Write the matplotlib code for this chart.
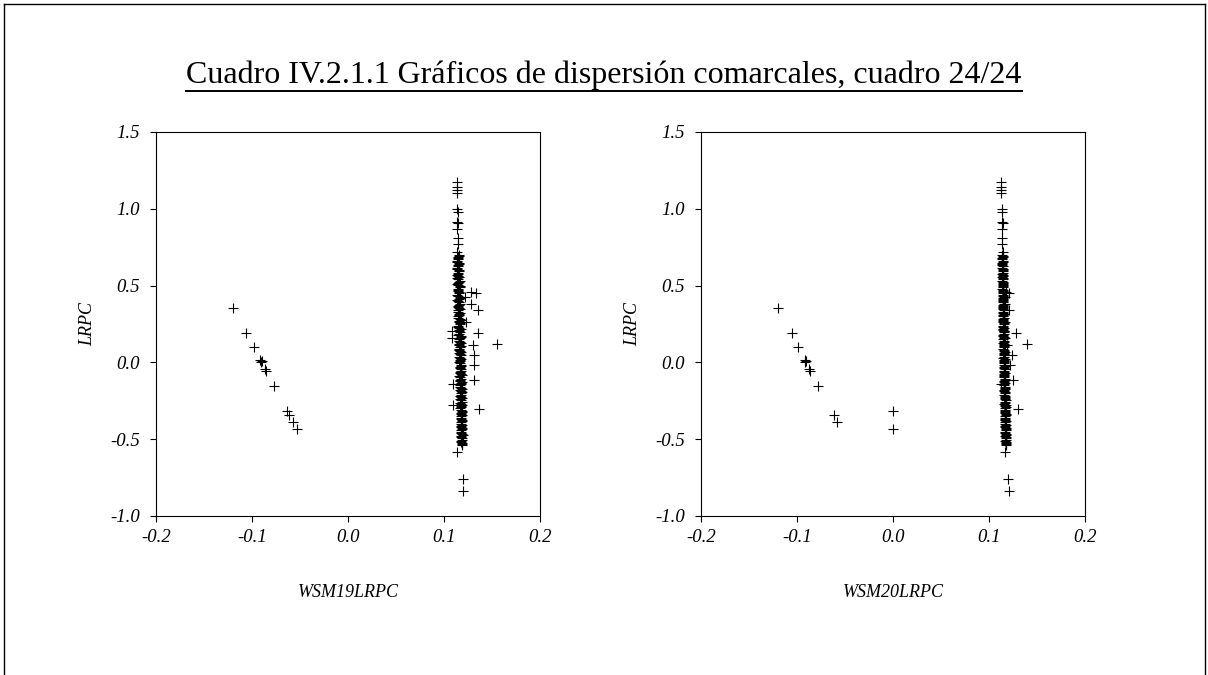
import matplotlib
matplotlib.use("Agg")
import matplotlib.pyplot as plt
from matplotlib.lines import Line2D

plt.rcParams['font.family'] = ['Liberation Serif', 'DejaVu Serif']

title = "Cuadro IV.2.1.1 Gráficos de dispersión comarcales, cuadro 24/24"
ylabel = "LRPC"
xlabels = ["WSM19LRPC", "WSM20LRPC"]
xticks = [-0.2, -0.1, 0.0, 0.1, 0.2]
xticklabels = ["-0.2", "-0.1", "0.0", "0.1", "0.2"]
yticks = [-1.0, -0.5, 0.0, 0.5, 1.0, 1.5]
yticklabels = ["-1.0", "-0.5", "0.0", "0.5", "1.0", "1.5"]

# Outlying points: LRPC, WSM19LRPC, WSM20LRPC
lrpc_out = [0.352, 0.189, 0.098, 0.016, 0.011, 0.000, -0.045, -0.054, -0.152,
            -0.316, -0.345, -0.386, -0.436,
            0.458, 0.450, 0.424, 0.378, 0.339, 0.261, 0.204, 0.191, 0.157, 0.118,
            0.111, 0.048, -0.019, -0.117, -0.141, -0.280, -0.303, -0.583, -0.757, -0.837,
            1.172, 1.144, 1.122, 1.101, 0.999, 0.977, 0.912, 0.908, 0.868, 0.810]
wsm19_out = [-0.1195, -0.1060, -0.0982, -0.0913, -0.0900, -0.0906, -0.0865, -0.0850, -0.0770,
             -0.0639, -0.0610, -0.0576, -0.0535,
             0.1285, 0.1333, 0.1220, 0.1278, 0.1358, 0.1233, 0.1080, 0.1350, 0.1080, 0.1556,
             0.1300, 0.1316, 0.1316, 0.1316, 0.1090, 0.1097, 0.1365, 0.1135, 0.1200, 0.1200,
             0.1135, 0.1135, 0.1135, 0.1135, 0.1135, 0.1150, 0.1135, 0.1148, 0.1140, 0.1145]
wsm20_out = [-0.1200, -0.1056, -0.0985, -0.0920, -0.0908, -0.0913, -0.0872, -0.0860, -0.0778,
             0.0000, -0.0618, -0.0580, 0.0000,
             0.1175, 0.1210, 0.1165, 0.1170, 0.1210, 0.1170, 0.1160, 0.1281, 0.1165, 0.1393,
             0.1185, 0.1240, 0.1219, 0.1247, 0.1130, 0.1175, 0.1306, 0.1167, 0.1194, 0.1211,
             0.1128, 0.1128, 0.1128, 0.1128, 0.1135, 0.1140, 0.1140, 0.1145, 0.1135, 0.1138]

# Dense column of comarcas (first group)
lrpc_col = [0.771, 0.720, 0.700, 0.685, 0.670, 0.655, 0.640, 0.625, 0.615, 0.600,
            0.585, 0.570, 0.555, 0.540, 0.525, 0.510, 0.495, 0.480, 0.465, 0.450,
            0.435, 0.420, 0.405, 0.390, 0.375, 0.360, 0.345, 0.330, 0.315, 0.300,
            0.285, 0.270, 0.255, 0.240, 0.225, 0.210, 0.195, 0.180, 0.165, 0.150,
            0.135, 0.120, 0.105, 0.090, 0.075, 0.060, 0.045, 0.030, 0.015, 0.000,
            -0.015, -0.030, -0.045, -0.060, -0.075, -0.090, -0.105, -0.120, -0.135, -0.150,
            -0.165, -0.180, -0.195, -0.210, -0.225, -0.240, -0.255, -0.270, -0.285, -0.300,
            -0.315, -0.330, -0.345, -0.360, -0.375, -0.390, -0.405, -0.420, -0.435, -0.450,
            -0.465, -0.480, -0.495, -0.510, -0.525, -0.540]
wsm19_col = [0.1145, 0.1140, 0.1152, 0.1143, 0.1150, 0.1138, 0.1155, 0.1146, 0.1140, 0.1158,
             0.1148, 0.1140, 0.1160, 0.1145, 0.1152, 0.1138, 0.1162, 0.1150, 0.1143, 0.1158,
             0.1147, 0.1165, 0.1140, 0.1155, 0.1160, 0.1145, 0.1168, 0.1150, 0.1158, 0.1143,
             0.1163, 0.1152, 0.1170, 0.1147, 0.1160, 0.1155, 0.1168, 0.1150, 0.1172, 0.1158,
             0.1165, 0.1153, 0.1175, 0.1160, 0.1168, 0.1155, 0.1178, 0.1162, 0.1170, 0.1158,
             0.1175, 0.1163, 0.1180, 0.1167, 0.1172, 0.1160, 0.1182, 0.1170, 0.1176, 0.1165,
             0.1180, 0.1170, 0.1185, 0.1172, 0.1178, 0.1168, 0.1187, 0.1175, 0.1182, 0.1170,
             0.1185, 0.1176, 0.1190, 0.1178, 0.1183, 0.1173, 0.1188, 0.1180, 0.1186, 0.1176,
             0.1190, 0.1182, 0.1188, 0.1180, 0.1192, 0.1185]
wsm20_col = [0.1138, 0.1142, 0.1136, 0.1144, 0.1140, 0.1146, 0.1139, 0.1143, 0.1137, 0.1145,
             0.1141, 0.1147, 0.1140, 0.1144, 0.1149, 0.1142, 0.1146, 0.1140, 0.1148, 0.1143,
             0.1150, 0.1145, 0.1148, 0.1142, 0.1151, 0.1146, 0.1149, 0.1144, 0.1153, 0.1147,
             0.1151, 0.1145, 0.1155, 0.1149, 0.1152, 0.1147, 0.1156, 0.1150, 0.1154, 0.1148,
             0.1157, 0.1152, 0.1155, 0.1150, 0.1159, 0.1153, 0.1157, 0.1151, 0.1160, 0.1155,
             0.1158, 0.1153, 0.1162, 0.1156, 0.1160, 0.1155, 0.1164, 0.1158, 0.1162, 0.1157,
             0.1166, 0.1160, 0.1164, 0.1158, 0.1168, 0.1162, 0.1166, 0.1160, 0.1170, 0.1164,
             0.1168, 0.1162, 0.1172, 0.1166, 0.1170, 0.1164, 0.1174, 0.1168, 0.1172, 0.1166,
             0.1176, 0.1170, 0.1174, 0.1168, 0.1178, 0.1172]

# Dense column of comarcas (second group)
lrpc_col2 = [0.693, 0.678, 0.663, 0.648, 0.633, 0.607, 0.592, 0.578, 0.562, 0.547,
             0.532, 0.517, 0.503, 0.488, 0.472, 0.457, 0.442, 0.428, 0.413, 0.397,
             0.382, 0.368, 0.353, 0.338, 0.322, 0.307, 0.292, 0.278, 0.263, 0.248,
             0.232, 0.217, 0.202, 0.188, 0.173, 0.158, 0.142, 0.127, 0.112, 0.098,
             0.083, 0.068, 0.052, 0.037, 0.022, 0.008, -0.007, -0.022, -0.038, -0.053,
             -0.068, -0.082, -0.097, -0.112, -0.128, -0.143, -0.158, -0.172, -0.187, -0.202,
             -0.218, -0.233, -0.248, -0.262, -0.277, -0.292, -0.308, -0.323, -0.338, -0.352,
             -0.367, -0.382, -0.398, -0.413, -0.428, -0.442, -0.457, -0.472, -0.488, -0.503,
             -0.518, -0.532]
wsm19_col2 = [0.1155, 0.1142, 0.1137, 0.1158, 0.1148, 0.1135, 0.1160, 0.1145, 0.1150, 0.1140,
              0.1162, 0.1150, 0.1142, 0.1165, 0.1148, 0.1155, 0.1140, 0.1166, 0.1152, 0.1145,
              0.1168, 0.1150, 0.1158, 0.1145, 0.1170, 0.1155, 0.1148, 0.1172, 0.1157, 0.1162,
              0.1150, 0.1175, 0.1160, 0.1152, 0.1173, 0.1162, 0.1155, 0.1177, 0.1160, 0.1168,
              0.1157, 0.1180, 0.1165, 0.1160, 0.1178, 0.1168, 0.1162, 0.1182, 0.1166, 0.1172,
              0.1162, 0.1184, 0.1170, 0.1165, 0.1183, 0.1173, 0.1167, 0.1186, 0.1172, 0.1178,
              0.1168, 0.1188, 0.1175, 0.1170, 0.1187, 0.1178, 0.1172, 0.1190, 0.1176, 0.1182,
              0.1172, 0.1192, 0.1180, 0.1175, 0.1190, 0.1182, 0.1177, 0.1193, 0.1180, 0.1186,
              0.1178, 0.1190]
wsm20_col2 = [0.1144, 0.1137, 0.1146, 0.1140, 0.1138, 0.1147, 0.1141, 0.1139, 0.1148, 0.1142,
              0.1140, 0.1150, 0.1143, 0.1141, 0.1151, 0.1145, 0.1142, 0.1152, 0.1146, 0.1144,
              0.1153, 0.1147, 0.1145, 0.1155, 0.1148, 0.1146, 0.1156, 0.1150, 0.1147, 0.1157,
              0.1151, 0.1149, 0.1158, 0.1152, 0.1150, 0.1160, 0.1153, 0.1151, 0.1161, 0.1155,
              0.1153, 0.1162, 0.1156, 0.1154, 0.1164, 0.1157, 0.1155, 0.1165, 0.1159, 0.1157,
              0.1166, 0.1160, 0.1158, 0.1168, 0.1161, 0.1160, 0.1169, 0.1163, 0.1161, 0.1171,
              0.1164, 0.1163, 0.1172, 0.1166, 0.1164, 0.1174, 0.1167, 0.1166, 0.1175, 0.1169,
              0.1167, 0.1177, 0.1170, 0.1169, 0.1178, 0.1172, 0.1170, 0.1180, 0.1173, 0.1172,
              0.1181, 0.1175]

W, H = 1208, 675
fig = plt.figure(figsize=(W / 100, H / 100), dpi=100)
fig.patch.set_facecolor('white')

# Outer frame (left, top, right)
for xs, ys in [([3.5, 3.5], [0, 671.5]), ([3.5, 1204.5], [671.5, 671.5]), ([1204.5, 1204.5], [671.5, 0])]:
    fig.add_artist(Line2D([x / W for x in xs], [y / H for y in ys], color='black', lw=1.0,
                          transform=fig.transFigure))

t = fig.text(0.5, 1 - 75 / H, title, ha='center', va='center', fontsize=23,
             family=['Liberation Serif'])

axes_left = [156, 701]
lrpc_all = lrpc_out + lrpc_col + lrpc_col2
xsets = [wsm19_out + wsm19_col + wsm19_col2, wsm20_out + wsm20_col + wsm20_col2]
for i in range(2):
    ax = fig.add_axes([axes_left[i] / W, (H - 516) / H, 384 / W, 384 / H])
    ax.plot(xsets[i], lrpc_all, linestyle='none', marker='+', color='black',
            markersize=6.5, markeredgewidth=0.8)
    ax.set_xlim(-0.2, 0.2)
    ax.set_ylim(-1.0, 1.5)
    ax.set_xticks(xticks)
    ax.set_xticklabels(xticklabels, fontstyle='italic', fontsize=13.5)
    ax.set_yticks(yticks)
    ax.set_yticklabels(yticklabels, fontstyle='italic', fontsize=13.5)
    ax.tick_params(direction='out', length=4, width=0.8, pad=5)
    ax.tick_params(axis='y', pad=7.5)
    for sp in ax.spines.values():
        sp.set_linewidth(0.8)
    ax.set_xlabel(xlabels[i], fontstyle='italic', fontsize=13, labelpad=28)
    ax.set_ylabel(ylabel, fontstyle='italic', fontsize=13, labelpad=10)

fig.canvas.draw()
bb = t.get_window_extent()
uy = bb.y0 - 1.0
fig.add_artist(Line2D([bb.x0 / W, bb.x1 / W], [uy / H, uy / H], color='black', lw=1.4,
                      transform=fig.transFigure))

fig.savefig('out.png', dpi=100, facecolor='white')
